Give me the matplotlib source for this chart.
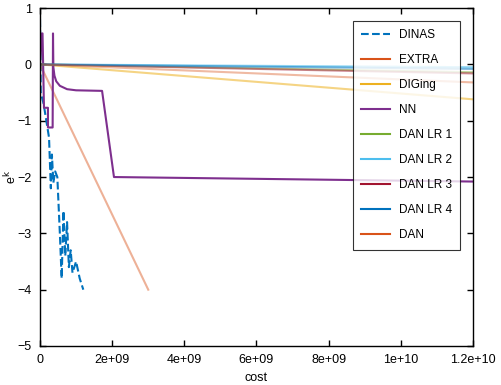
import matplotlib
matplotlib.use('Agg')
import matplotlib.pyplot as plt
import numpy as np

plt.rcParams['font.family'] = ['Liberation Sans', 'DejaVu Sans']
plt.rcParams['font.size'] = 9

# DINAS (dashed, noisy descent)
dinas_cost = [0, 0.01e9, 0.02e9, 0.1e9, 0.25e9, 0.3e9, 0.33e9, 0.37e9, 0.42e9, 0.48e9,
              0.55e9, 0.6e9, 0.65e9, 0.7e9, 0.75e9, 0.8e9, 0.85e9, 0.9e9, 1.0e9, 1.1e9, 1.2e9]
dinas_val = [0.8, 0.3, -0.5, -0.7, -1.3, -2.2, -1.6, -2.1, -1.9, -2.0,
             -3.0, -3.8, -2.6, -3.4, -2.8, -3.6, -3.3, -3.7, -3.5, -3.8, -4.0]

extra_cost = [0, 3.0e9]
extra_val = [0, -4.0]

diging_cost = [0, 1.2e10]
diging_val = [0, -0.62]

nn_cost = [0, 0.05e9, 0.07e9, 0.11e9, 0.22e9, 0.22e9, 0.35e9, 0.36e9, 0.37e9, 0.4e9,
           0.45e9, 0.55e9, 0.75e9, 1.0e9, 1.72e9, 2.05e9, 1.2e10]
nn_val = [0, 0.55, 0.55, -0.77, -0.77, -1.12, -1.12, 0.55, -0.05, -0.2,
          -0.3, -0.38, -0.44, -0.46, -0.47, -2.0, -2.08]

danlr1_cost = [0, 1.2e10]
danlr1_val = [0, -0.14]
danlr2_cost = [0, 1.2e10]
danlr2_val = [0, -0.05]
danlr3_cost = [0, 1.2e10]
danlr3_val = [0, -0.16]
danlr4_cost = [0, 1.2e10]
danlr4_val = [0, -0.08]
dan_cost = [0, 1.2e10]
dan_val = [0, -0.32]

fig = plt.figure(figsize=(5.02, 3.85), dpi=100)
ax = fig.add_axes([0.0797, 0.1013, 0.8625, 0.8777])

ax.plot(dinas_cost, dinas_val, '--', color='#0072BD', lw=1.5, label='DINAS')
ax.plot(extra_cost, extra_val, color='#D95319', lw=1.5, alpha=0.45, label='EXTRA')
ax.plot(diging_cost, diging_val, color='#EDB120', lw=1.5, alpha=0.55, label='DIGing')
ax.plot(nn_cost, nn_val, color='#7E2F8E', lw=1.5, label='NN')
ax.plot(danlr1_cost, danlr1_val, color='#77AC30', lw=1.5, alpha=0.5, label='DAN LR 1')
ax.plot(danlr2_cost, danlr2_val, color='#4DBEEE', lw=1.5, alpha=0.6, label='DAN LR 2')
ax.plot(danlr3_cost, danlr3_val, color='#A2142F', lw=1.5, alpha=0.5, label='DAN LR 3')
ax.plot(danlr4_cost, danlr4_val, color='#0072BD', lw=1.5, alpha=0.5, label='DAN LR 4')
ax.plot(dan_cost, dan_val, color='#D95319', lw=1.5, alpha=0.4, label='DAN')

ax.set_xlim(0, 1.2e10)
ax.set_ylim(-5, 1)
ax.set_xticks(np.arange(0, 1.21e10, 2e9))
ax.set_xticklabels(['0', '2e+09', '4e+09', '6e+09', '8e+09', '1e+10', '1.2e+10'])
ax.set_yticks([-5, -4, -3, -2, -1, 0, 1])
ax.tick_params(direction='in', top=True, right=True, length=4, width=1)
ax.tick_params(axis='x', pad=6)
ax.tick_params(axis='y', pad=6)
for s in ax.spines.values():
    s.set_linewidth(1)
ax.set_xlabel('cost', labelpad=4)
ax.set_ylabel(r'e$^{\mathrm{k}}$', labelpad=-1)

leg = ax.legend(loc='upper right', bbox_to_anchor=(0.970, 0.9615), frameon=True, fancybox=False,
                edgecolor='black', handlelength=2.5, labelspacing=1.1, borderpad=0.7,
                handletextpad=0.7, fontsize=8.5, borderaxespad=0)
leg.get_frame().set_linewidth(0.8)
for h in leg.get_lines():
    h.set_alpha(1)

fig.savefig('out.png', dpi=100)
